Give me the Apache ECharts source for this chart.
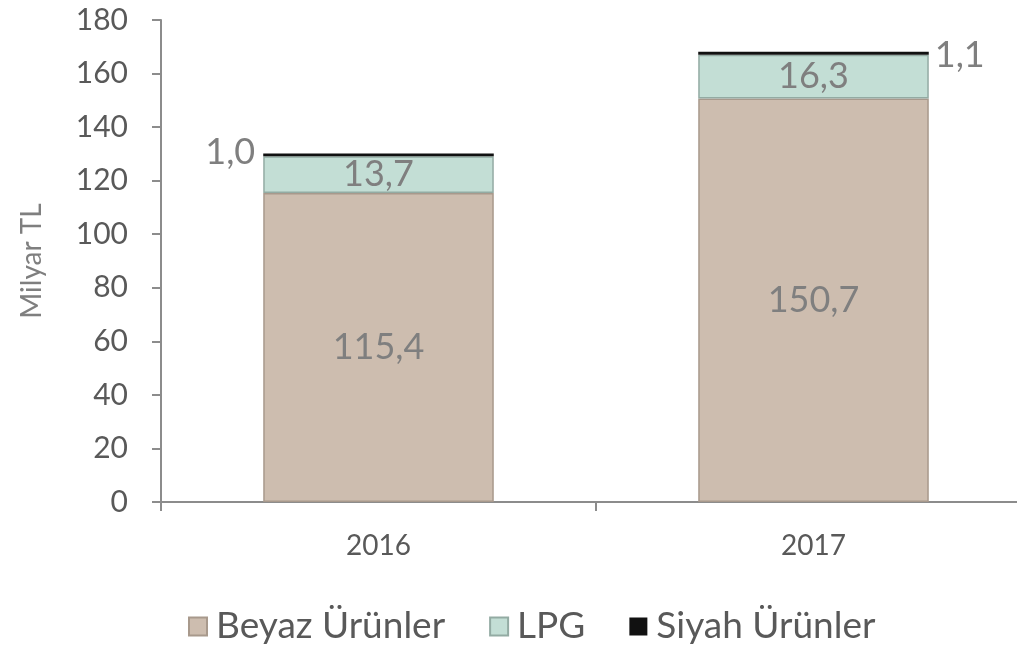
<!DOCTYPE html>
<html>
<head>
<meta charset="utf-8">
<script src="https://cdn.jsdelivr.net/npm/echarts@6/dist/echarts.min.js"></script>
<style>
  html, body { margin: 0; padding: 0; background: #fff; }
  #chart { width: 1017px; height: 650px; }
</style>
</head>
<body>
<div id="chart"></div>
<script>
// veriler
const years = ['2016', '2017']
const beyazUrunler = [115.4, 150.7]
const lpg = [13.7, 16.3]
const siyahUrunler = [1.0, 1.1]
const yTicks = { min: 0, max: 180, interval: 20 }

const fmt = v => v.toFixed(1).replace('.', ',')
const labelColor = '#7f7f7f'
const font = 'Lato, "Open Sans", sans-serif'

const chart = echarts.init(document.getElementById('chart'))

const option = {
  animation: false,
  textStyle: { fontFamily: font },
  grid: {
    left: 161,
    width: 870,
    top: 20,
    bottom: 148,
    outerBoundsMode: 'none'
  },
  legend: {
    bottom: 0,
    left: 183,
    icon: 'rect',
    itemWidth: 18,
    itemHeight: 18,
    itemGap: 44,
    textStyle: { fontSize: 37, color: '#595959', fontFamily: font, padding: [0, 0, 0, 4] },
    data: ['Beyaz Ürünler', 'LPG', 'Siyah Ürünler']
  },
  xAxis: {
    type: 'category',
    data: years,
    axisLine: { lineStyle: { color: '#8c8c8c', width: 2 } },
    axisTick: { show: true, length: 9, lineStyle: { color: '#8c8c8c', width: 2 } },
    axisLabel: { color: '#595959', fontSize: 28, margin: 30 }
  },
  yAxis: {
    type: 'value',
    min: yTicks.min,
    max: yTicks.max,
    interval: yTicks.interval,
    name: 'Milyar TL',
    nameLocation: 'middle',
    nameGap: 115,
    nameTextStyle: { color: '#7f7f7f', fontSize: 28 },
    splitLine: { show: false },
    axisLine: { show: true, lineStyle: { color: '#8c8c8c', width: 2 } },
    axisTick: { show: true, length: 9, lineStyle: { color: '#8c8c8c', width: 2 } },
    axisLabel: { color: '#595959', fontSize: 30, margin: 33 }
  },
  series: [
    {
      name: 'Beyaz Ürünler',
      type: 'bar',
      stack: 'total',
      barWidth: '53%',
      data: beyazUrunler,
      itemStyle: { color: '#cdbdaf', borderColor: '#a8998c', borderWidth: 1.5 },
      label: {
        show: true,
        position: 'inside',
        color: labelColor,
        fontSize: 36,
        formatter: p => fmt(p.value)
      }
    },
    {
      name: 'LPG',
      type: 'bar',
      stack: 'total',
      data: lpg,
      itemStyle: { color: '#c3ded5', borderColor: '#93aba3', borderWidth: 1.5 },
      label: {
        show: true,
        position: 'inside',
        color: labelColor,
        fontSize: 36,
        formatter: p => fmt(p.value)
      }
    },
    {
      name: 'Siyah Ürünler',
      type: 'bar',
      stack: 'total',
      data: siyahUrunler.map((v, i) => ({
        value: v,
        label: i === 0
          ? { position: 'left', distance: 8, offset: [0, -3] }
          : { position: 'right', distance: 6, offset: [0, 2] }
      })),
      itemStyle: { color: '#111111' },
      label: {
        show: true,
        color: labelColor,
        fontSize: 36,
        formatter: p => fmt(p.value)
      }
    }
  ]
}

chart.setOption(option)
</script>
</body>
</html>
